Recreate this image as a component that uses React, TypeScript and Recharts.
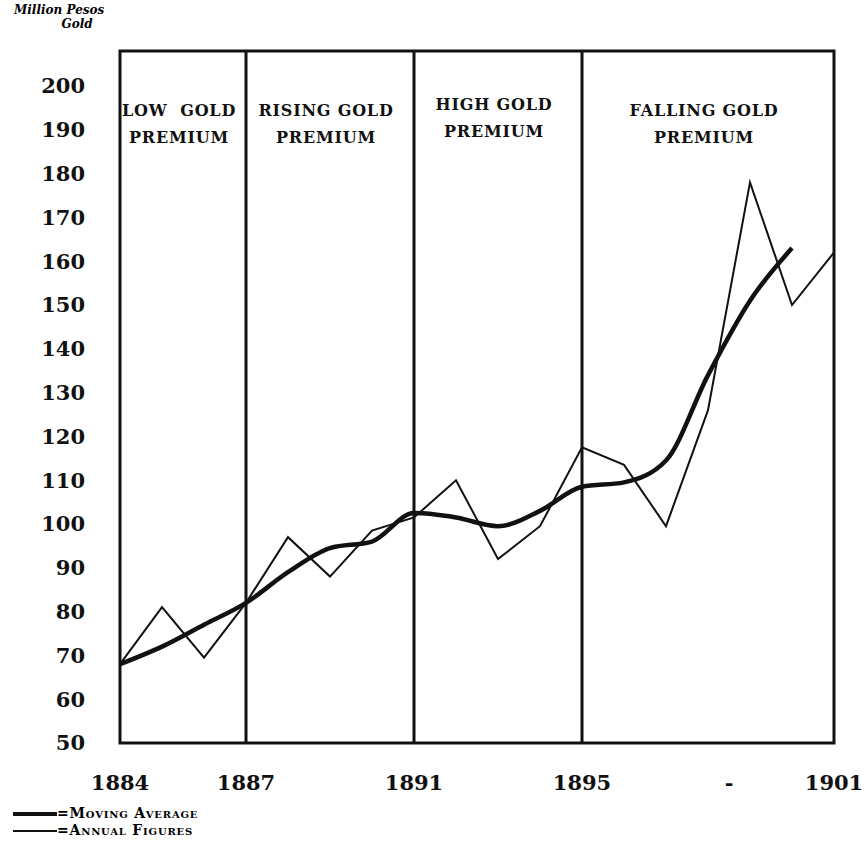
import { LineChart, Line, XAxis, YAxis, ReferenceLine, ReferenceArea } from 'recharts';

const years = [1884, 1885, 1886, 1887, 1888, 1889, 1890, 1891, 1892, 1893, 1894, 1895, 1896, 1897, 1898, 1899, 1900, 1901];
const annualFigures = [68, 81, 69.5, 82, 97, 88, 98.5, 101.5, 110, 92, 99.5, 117.5, 113.5, 99.5, 126, 178, 150, 162];
const movingAverage = [68, 72, 77, 82, 89, 94.5, 96, 102.5, 101.5, 99.5, 103, 108.5, 109.5, 114.5, 134, 151, 163];

const xTicks = [1884, 1887, 1891, 1895, 1898.5, 1901];
const yTicks = [50, 60, 70, 80, 90, 100, 110, 120, 130, 140, 150, 160, 170, 180, 190, 200];
const dividers = [1887, 1891, 1895];
const periods = [
  { from: 1884, to: 1887, lines: ['LOW  GOLD', 'PREMIUM'], dy: 0 },
  { from: 1887, to: 1891, lines: ['RISING GOLD', 'PREMIUM'], dy: 0 },
  { from: 1891, to: 1895, lines: ['HIGH GOLD', 'PREMIUM'], dy: -6 },
  { from: 1895, to: 1901, lines: ['FALLING GOLD', 'PREMIUM'], dy: 0 },
];

const data = years.map((year, i) => ({
  year,
  annual: annualFigures[i],
  moving: movingAverage[i],
}));

const SERIF = '"DejaVu Serif", "Liberation Serif", serif';

function PeriodLabel({ viewBox, lines, dy }: any) {
  const { x, y, width } = viewBox;
  const cx = x + width / 2 - 4;
  return (
    <g>
      {lines.map((t: string, i: number) => (
        <text key={i} x={cx} y={y + 65 + dy + i * 27} textAnchor="middle" fontFamily={SERIF}
          fontWeight="bold" fontSize={16} letterSpacing={0.8} fill="#111" style={{ whiteSpace: 'pre' }}>
          {t}
        </text>
      ))}
    </g>
  );
}

export default function App() {
  return (
    <div style={{ position: 'relative', width: 868, height: 859, background: '#fff' }}>
      <style>{'body{margin:0}'}</style>
      <div style={{ position: 'absolute', left: 14, top: 3, fontFamily: SERIF, fontStyle: 'italic', fontWeight: 'bold', fontSize: 12, lineHeight: '14px', textAlign: 'center' }}>
        <div>Million  Pesos</div>
        <div style={{ paddingLeft: 36 }}>Gold</div>
      </div>
      <LineChart width={868} height={859} data={data} margin={{ top: 51, right: 34, bottom: 56, left: 0 }}>
        <XAxis dataKey="year" type="number" domain={[1884, 1901]} ticks={xTicks} interval={0}
          tickFormatter={(v: number) => (v === 1898.5 ? '-' : String(v))}
          axisLine={false} tickLine={false} tickSize={0} tickMargin={32} height={60}
          tick={{ fill: '#111', fontFamily: SERIF, fontWeight: 'bold', fontSize: 21 }} />
        <YAxis type="number" domain={[50, 208]} ticks={yTicks} interval={0} allowDataOverflow
          axisLine={false} tickLine={false} tickSize={0} tickMargin={35} width={120}
          tick={{ fill: '#111', fontFamily: SERIF, fontWeight: 'bold', fontSize: 21 }} />
        {periods.map((p) => (
          <ReferenceArea key={p.from} x1={p.from} x2={p.to} y1={50} y2={208} fill="none" stroke="none"
            label={<PeriodLabel lines={p.lines} dy={p.dy} />} />
        ))}
        <ReferenceArea x1={1884} x2={1901} y1={50} y2={208} fill="none" stroke="#111" strokeWidth={3} />
        {dividers.map((d) => (
          <ReferenceLine key={d} x={d} stroke="#111" strokeWidth={3} />
        ))}
        <Line dataKey="annual" type="linear" stroke="#111" strokeWidth={2} dot={false} isAnimationActive={false} />
        <Line dataKey="moving" type="monotone" stroke="#111" strokeWidth={4.5} dot={false} isAnimationActive={false} connectNulls={false} />
      </LineChart>
      <div style={{ position: 'absolute', left: 13, top: 805, fontFamily: SERIF, fontWeight: 'bold', fontSize: 14, letterSpacing: 0.8, fontVariant: 'small-caps', lineHeight: '17px' }}>
        <div style={{ display: 'flex', alignItems: 'center' }}>
          <span style={{ display: 'inline-block', width: 44, height: 4, background: '#111' }} />
          <span>=Moving Average</span>
        </div>
        <div style={{ display: 'flex', alignItems: 'center' }}>
          <span style={{ display: 'inline-block', width: 44, height: 2, background: '#111' }} />
          <span>=Annual Figures</span>
        </div>
      </div>
    </div>
  );
}
